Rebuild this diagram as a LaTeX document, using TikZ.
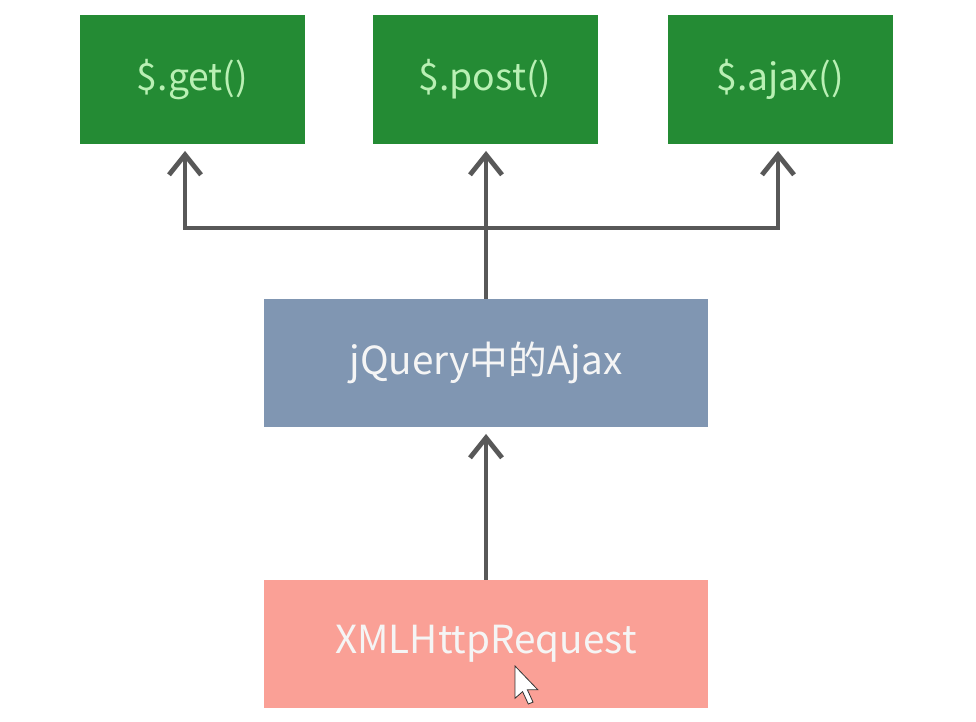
\documentclass[tikz,border=0pt]{standalone}
\usepackage{fontspec}
\setmainfont{Noto Sans CJK SC}
\usetikzlibrary{arrows.meta,positioning}
\definecolor{boxgreen}{RGB}{36,139,52}
\definecolor{txtgreen}{RGB}{185,240,180}
\definecolor{boxblue}{RGB}{128,150,178}
\definecolor{boxsalmon}{RGB}{250,160,150}
\definecolor{linegray}{RGB}{88,88,88}
\tikzset{
  gbox/.style={fill=boxgreen, text=txtgreen, minimum width=168.75pt, minimum height=96.75pt, inner sep=0pt, font=\fontsize{28}{32}\selectfont},
  wbox/.style={minimum width=333pt, minimum height=96pt, inner sep=0pt, text=white!92!gray, font=\fontsize{29}{33}\selectfont},
  conn/.style={draw=linegray, line width=3.6pt},
  arr/.style={conn, -{Straight Barb[length=15pt,width=24pt,line width=3.6pt]}, shorten >=5pt}
}
\begin{document}
\begin{tikzpicture}[x=0.75pt,y=-0.75pt]
\fill[white] (0,0) rectangle (976,722);
\useasboundingbox (0,0) rectangle (976,722);
\node[gbox] (get) at (192.5,79.5) {\$.get()};
\node[gbox] (post) at (485,79.5) {\$.post()};
\node[gbox] (ajax) at (780,79.5) {\$.ajax()};
\node[wbox, fill=boxblue] (jq) at (486,363) {jQuery中的Ajax};
\node[wbox, fill=boxsalmon] (xhr) at (486,644) {XMLHttpRequest};
\coordinate (j) at (486,228);
\draw[arr] (jq.north) -- (jq.north |- post.south);
\draw[arr] (j) -| ([xshift=-5.6pt]get.south);
\draw[arr] (j) -| ([xshift=-1.5pt]ajax.south);
\draw[arr] (xhr.north) -- (jq.south);
% mouse cursor
\begin{scope}[shift={(515,666)}, scale=1.9]
\draw[fill=white, draw=black!80, line width=0.6pt, line join=miter]
  (0,0) -- (0,17) -- (4,13.5) -- (7,20) -- (9.5,19) -- (6.5,12.5) -- (12,12.5) -- cycle;
\end{scope}
\end{tikzpicture}
\end{document}
